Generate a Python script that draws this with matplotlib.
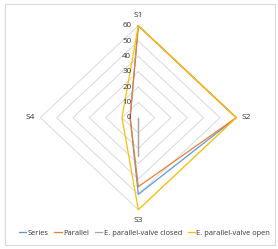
import matplotlib.pyplot as plt
import numpy as np
from matplotlib.patches import Rectangle

plt.rcParams['font.family'] = ['Open Sans', 'DejaVu Sans']

categories = ['S1', 'S2', 'S3', 'S4']
series = [60, 60, 50, 5]
parallel = [60, 60, 45, 5]
valve_closed = [0, 0, 25, 0]
valve_open = [60, 60, 60, 10]
ticks = [0, 10, 20, 30, 40, 50, 60]

names = ['Series', 'Parallel', 'E. parallel-valve closed', 'E. parallel-valve open']
colors = ['#5B9BD5', '#ED7D31', '#A5A5A5', '#FFC000']

# S1 up, S2 right, S3 down, S4 left
theta = np.arange(len(categories)) * np.pi / 2


def to_xy(vals):
    r = np.array(vals + vals[:1], dtype=float)
    t = np.concatenate([theta, theta[:1]])
    return r * np.sin(t), r * np.cos(t)


fig = plt.figure(figsize=(2.78, 2.49), dpi=100)
ax = fig.add_axes([40.3 / 278, 39.3 / 249, 196 / 278, 184 / 249])
ax.set_xlim(-60, 60)
ax.set_ylim(-60, 60)
ax.axis('off')

# diamond grid
for t in ticks[1:]:
    gx, gy = to_xy([t] * 4)
    ax.plot(gx, gy, color='#D9D9D9', lw=0.7, zorder=1)

for vals, c in zip([series, parallel, valve_closed, valve_open], colors):
    x, y = to_xy(vals)
    ax.plot(x, y, color=c, lw=0.9, zorder=3, clip_on=False)

txt = '#333333'
for t in ticks:
    ax.text(-4.3, t, str(t), ha='right', va='center', fontsize=5.8, color=txt)

ax.text(0, 66.5, categories[0], ha='center', va='center', fontsize=6, color=txt)
ax.text(63.5, 0, categories[1], ha='left', va='center', fontsize=6, color=txt)
ax.text(0, -67, categories[2], ha='center', va='center', fontsize=6, color=txt)
ax.text(-63.5, 0, categories[3], ha='right', va='center', fontsize=6, color=txt)

handles = [plt.Line2D([], [], color=c, lw=0.9) for c in colors]
fig.legend(handles, names, loc='center', bbox_to_anchor=(0.52, 1 - 233 / 249), ncol=4,
           frameon=False, fontsize=5.4, handlelength=1.0, handletextpad=0.15,
           columnspacing=0.8, labelcolor=txt)

fig.patches.append(Rectangle((5 / 278, 4 / 249), 270 / 278, 241 / 249, transform=fig.transFigure,
                             fill=False, edgecolor='#D9D9D9', lw=0.8))

fig.savefig('out.png', dpi=100)
